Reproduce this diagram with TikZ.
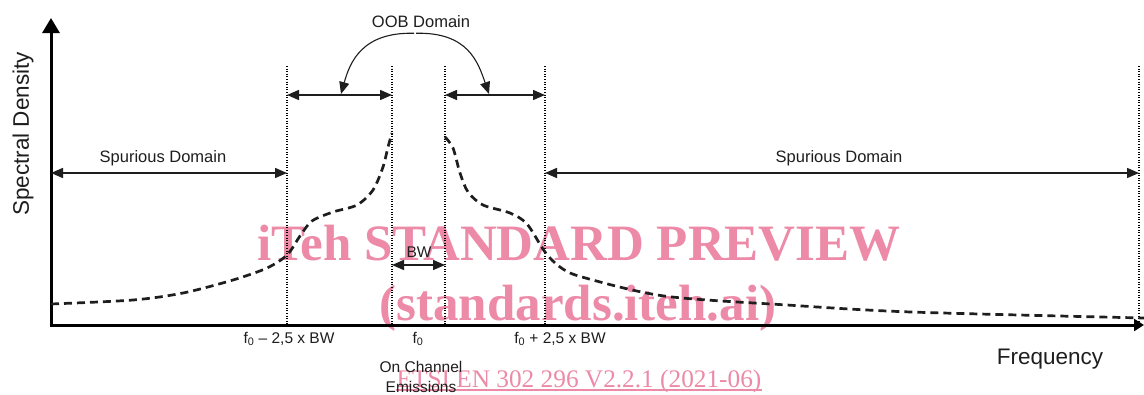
\documentclass[tikz,border=0pt]{standalone}
\usepackage{fontspec}
\setmainfont{Liberation Sans}
\newfontfamily\wmfont{Liberation Serif}
\usetikzlibrary{arrows.meta,calc}
\definecolor{wmpink}{RGB}{236,138,168}
\definecolor{inkgrey}{RGB}{30,30,30}
\tikzstyle{axis} = [line width=3pt, black, {Triangle[width=17pt,length=15pt]}-{Triangle[width=12pt,length=10pt]}]
\tikzstyle{guide} = [line width=1.1pt, dash pattern=on 1pt off 1.6pt, black]
\tikzstyle{dimarrow} = [line width=1.5pt, inkgrey, {Triangle[width=10pt,length=12pt]}-{Triangle[width=10pt,length=12pt]}]
\tikzstyle{pointer} = [line width=1.1pt, inkgrey, -{Triangle[width=10pt,length=12pt]}]
\tikzstyle{spectrum} = [line width=2.7pt, dash pattern=on 8pt off 5pt, inkgrey]
\tikzstyle{domaintext} = [font=\fontsize{16.5}{20}\selectfont, text=inkgrey, inner sep=0pt, align=center]
\tikzstyle{axistext} = [font=\fontsize{22.5}{24}\selectfont, text=inkgrey, inner sep=0pt]
\tikzstyle{watermark} = [font=\wmfont\bfseries\fontsize{51}{56}\selectfont, text=wmpink, inner sep=0pt, anchor=base]

\begin{document}
\begin{tikzpicture}[x=1pt, y=-1pt]
    \fill[white] (0,0) rectangle (1144,394);
    \useasboundingbox (0,0) rectangle (1144,394);

    % Watermark
    \node (wm1) [watermark] at (579,260) {iTeh STANDARD PREVIEW};
    \node (wm2) [watermark] at (578,320) {(standards.iteh.ai)};
    \node (wm3) [watermark, font=\wmfont\fontsize{25.3}{28}\selectfont] at (579,387) {ETSI EN 302 296 V2.2.1 (2021-06)};
    \draw [wmpink, line width=1.1pt] ([yshift=-3pt]wm3.base west) -- ([yshift=-3pt]wm3.base east);

    % Coordinates
    \coordinate (origin) at (51,325);
    \coordinate (ytip) at (51,18);
    \coordinate (xtip) at (1144,325);
    \coordinate (oobA) at (287,66);
    \coordinate (chanA) at (392,66);
    \coordinate (chanB) at (445,66);
    \coordinate (oobB) at (545,66);
    \coordinate (spurEnd) at (1139,66);

    % Axes
    \draw [axis] (ytip) -- (origin) -- (xtip);

    % Guide lines
    \foreach \g in {oobA,chanA,chanB,oobB,spurEnd}
        \draw [guide] (\g) -- (\g |- origin);

    % Arrows
    \draw [dimarrow] ($(origin |- 0,173)$) -- ($(oobA |- 0,173)$);
    \draw [dimarrow] ($(oobB |- 0,173)$) -- ($(spurEnd |- 0,173)$);
    \draw [dimarrow] ($(oobA |- 0,95)$) -- ($(chanA |- 0,95)$);
    \draw [dimarrow] ($(chanB |- 0,95)$) -- ($(oobB |- 0,95)$);
    \draw [dimarrow] ($(chanA |- 0,265)$) -- ($(chanB |- 0,265)$);

    % Labels
    \node (ylabel) [axistext, rotate=90] at (23,134) {Spectral Density};
    \node (xlabel) [axistext] at (1050,359) {Frequency};
    \node (spurL) [domaintext] at (163,158) {Spurious Domain};
    \node (spurR) [domaintext] at (839,158) {Spurious Domain};
    \node (oob) [domaintext] at (421,22) {OOB Domain};
    \node (bw) [domaintext, font=\fontsize{15.5}{18}\selectfont] at (419,252) {BW};
    \node (fminus) [domaintext, font=\fontsize{15.5}{18}\selectfont] at (289,339) {f\textsubscript{0} -- 2,5 x BW};
    \node (fzero) [domaintext, font=\fontsize{15.5}{18}\selectfont] at (418,339) {f\textsubscript{0}};
    \node (fplus) [domaintext, font=\fontsize{15.5}{18}\selectfont] at (560,339) {f\textsubscript{0} + 2,5 x BW};
    \node (onchan) [domaintext, font=\fontsize{15.5}{20}\selectfont] at (421,377) {On Channel\\Emissions};

    % OOB pointers
    \draw [pointer] ($(oob.south)+(-7,5)$) .. controls (362,32) and (350,62) .. ($(oobA |- 0,94)+(54,0)$);
    \draw [pointer] ($(oob.south)+(-5,5)$) .. controls (468,32) and (478,62) .. ($(oobB |- 0,94)+(-56,0)$);

    % Spectrum
    \draw [spectrum] plot[smooth, tension=0.5] coordinates {(51,304) (133,300) (183,293) (233,280) (267,268) (287,255) (300,236) (312,221) (333,212) (357,205) (373,190) (383,167) (388,147) (392,133)};
    \draw [spectrum] plot[smooth, tension=0.5] coordinates {(445,137) (453,148) (460,173) (468,192) (483,205) (510,213) (527,224) (545,252) (560,267) (582,277) (664,296) (787,305) (911,312) (1144,318)};
\end{tikzpicture}
\end{document}
